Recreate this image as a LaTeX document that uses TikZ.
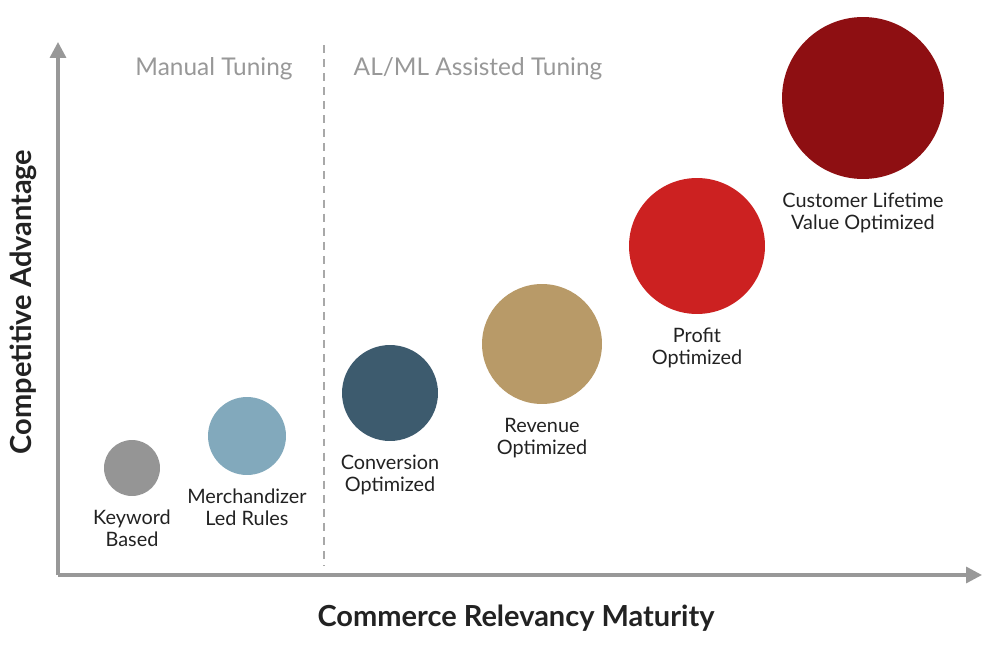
\documentclass[tikz,border=0pt]{standalone}
\usepackage{fontspec}
\setmainfont{Lato}
\usepackage{xcolor}
\usepackage{tikz}
\usetikzlibrary{arrows.meta,positioning}

\definecolor{axisgray}{HTML}{989898}
\definecolor{dashgray}{HTML}{A8A8A8}
\definecolor{txtdark}{HTML}{222222}
\definecolor{kwgray}{HTML}{959595}
\definecolor{merchblue}{HTML}{82A9BC}
\definecolor{convslate}{HTML}{3D5B6E}
\definecolor{revtan}{HTML}{B89A68}
\definecolor{profred}{HTML}{CC2121}
\definecolor{clvred}{HTML}{8E0F12}

\begin{document}
\begin{tikzpicture}[
    x=0.02cm, y=-0.02cm,
    axis/.style={-{Triangle[length=9pt, width=9pt]}, line width=1.9pt, axisgray},
    dot/.style={circle, inner sep=0pt, draw=none},
    lbl/.style={font=\fontsize{11.3}{12.5}\selectfont, text=txtdark, align=center, inner sep=1pt},
    phase/.style={font=\fontsize{13.9}{16}\selectfont, text=axisgray},
    ttl/.style={font=\fontsize{16.5}{19}\selectfont\bfseries, text=txtdark}
  ]
  \useasboundingbox (0,0) rectangle (1000,662);

  % ══ AXES ══════════════════════════════════════════════════════════════════
  \coordinate (origin) at (58,575);
  \coordinate (ytip) at (58,42);
  \coordinate (xtip) at (982,575);
  \draw[axis] (origin) -- (ytip);
  \draw[axis] (origin) -- (xtip);

  \node[ttl] (xtitle) at (516,618) {Commerce Relevancy Maturity};
  \node[ttl, rotate=90] (ytitle) at (23,302) {Competitive Advantage};

  % ══ PHASES ════════════════════════════════════════════════════════════════
  \coordinate (divtop) at (324,45);
  \coordinate (divbot) at (324,566);
  \draw[dashgray, line width=0.6pt, dash pattern=on 4.5pt off 3.5pt] (divtop) -- (divbot);

  \node[phase] (manual) at (214,69) {Manual Tuning};
  \node[phase] (assisted) at (478,69) {AL/ML Assisted Tuning};

  % ══ MATURITY STAGES (diameters: 56, 78, 96, 120, 136, 162 px) ═════════════
  \node[dot, fill=kwgray,    minimum size=1.12cm] (keyword) at (132,468) {};
  \node[dot, fill=merchblue, minimum size=1.56cm] (merch)   at (247,436) {};
  \node[dot, fill=convslate, minimum size=1.92cm] (conv)    at (390,393) {};
  \node[dot, fill=revtan,    minimum size=2.40cm] (rev)     at (542,344) {};
  \node[dot, fill=profred,   minimum size=2.72cm] (profit)  at (697,246) {};
  \node[dot, fill=clvred,    minimum size=3.24cm] (clv)     at (863,98)  {};

  \node[lbl, below=6.5pt of keyword] (keywordlbl) {Keyword\\Based};
  \node[lbl, below=6.5pt of merch]   (merchlbl)   {Merchandizer\\Led Rules};
  \node[lbl, below=6.5pt of conv]    (convlbl)    {Conversion\\Optimized};
  \node[lbl, below=6.5pt of rev]     (revlbl)     {Revenue\\Optimized};
  \node[lbl, below=6.5pt of profit]  (profitlbl)  {Profit\\Optimized};
  \node[lbl, below=6.5pt of clv]     (clvlbl)     {Customer Lifetime\\Value Optimized};

\end{tikzpicture}
\end{document}
